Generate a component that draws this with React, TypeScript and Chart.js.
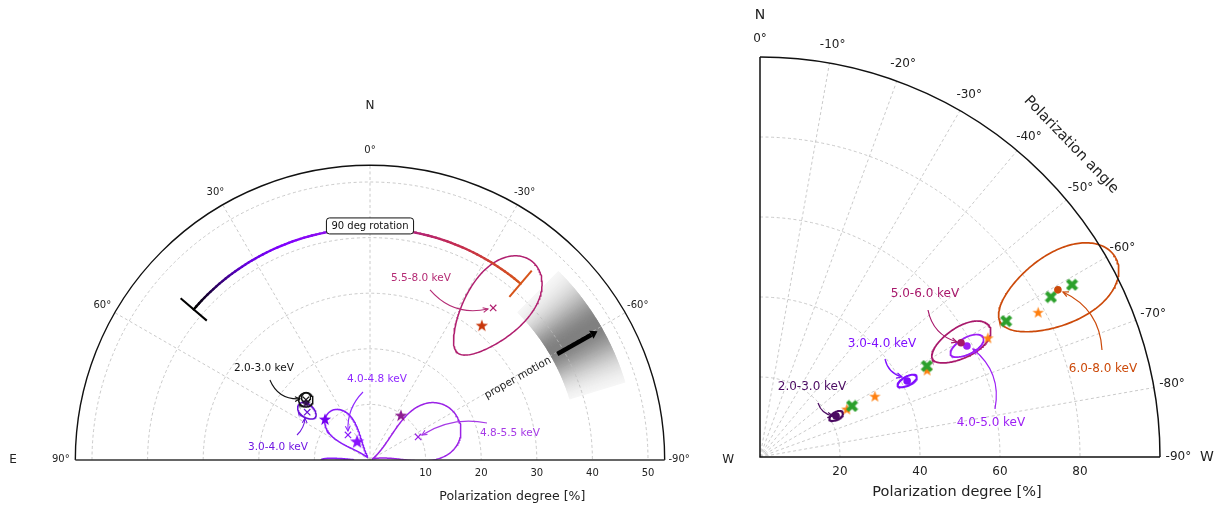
import React, { useEffect, useRef } from 'react';
import { Chart, registerables } from 'chart.js';

Chart.register(...registerables);

// ===================== LEFT PANEL DATA =====================
const L_BANDS = ['2.0-3.0 keV', '3.0-4.0 keV', '4.0-4.8 keV', '4.8-5.5 keV', '5.5-8.0 keV'];
// best-fit values (x markers): polarization degree [%], polarization angle [deg]
const L_FIT_PD = [15.8, 14.2, 6.0, 9.6, 35.2];
const L_FIT_PA = [46.8, 52.7, 41.3, -64.4, -39.0];
// star markers
const L_STAR_PD = [15.4, 10.95, 4.1, 9.8, 31.5];
const L_STAR_PA = [48.3, 47.7, 34.4, -34.6, -39.7];
// confidence contours (centre, half widths)
const L_CONT_PD = [15.8, 14.35, 6.0, 9.0, 35.5];
const L_CONT_PA = [46.8, 52.1, 40.6, -65.0, -39.3];
const L_CONT_DPD = [1.3, 1.9, 5.3, 8.5, 10.6];
const L_CONT_DPA = [4.6, 4.7, 19.0, 26.0, 9.0];
// inner 2-3 keV contour and the part of a contour wrapped at PA = 90
const L_INNER_PD = 16.1, L_INNER_PA = 45.6, L_INNER_DPD = 0.8, L_INNER_DPA = 3.0;
const L_WRAP_PD = 5.9, L_WRAP_PA = 90.0, L_WRAP_DPD = 2.9, L_WRAP_DPA = 2.6;
// "90 deg rotation" arc
const L_ROT_PD = 41.7;
const L_ROT_PA = [49.5, -40.5];
const L_ROT_BAR = [38.6, 44.8];
// proper motion
const L_PM_PA = -60.5;
const L_PM_PD = [38.7, 47.0];
const L_PM_BAND = [37.5, 48.0];
const L_PM_BAND_CENTRE = -59.0;
const L_PM_SIGMA = 6.0;
const L_PM_HALF = 14;
const L_RMAX = 53;
const L_R_TICKS = [10, 20, 30, 40, 50];
const L_A_TICKS = [90, 60, 30, 0, -30, -60, -90];
const L_A_GRID = [60, 30, 0, -30, -60];

// ===================== RIGHT PANEL DATA =====================
const R_BANDS = ['2.0-3.0 keV', '3.0-4.0 keV', '4.0-5.0 keV', '5.0-6.0 keV', '6.0-8.0 keV'];
const R_PD = [21.6, 41.4, 58.7, 57.8, 85.4];
const R_PA = [-61.7, -62.7, -61.8, -60.4, -60.7];
const R_DPD = [1.9, 2.65, 4.6, 8.2, 16.5];
const R_DPA = [2.6, 1.55, 2.0, 3.8, 5.9];
const R_GREEN_PD = [26.3, 47.5, 70.3, 83.0, 89.1];
const R_GREEN_PA = [-61.0, -61.4, -61.1, -61.2, -61.1];
const R_ORANGE_PD = [24.8, 32.5, 47.1, 64.3, 78.4];
const R_ORANGE_PA = [-61.1, -62.1, -62.5, -62.4, -62.5];
const R_RMAX = 100;
const R_R_TICKS = [20, 40, 60, 80];
const R_A_TICKS = [0, -10, -20, -30, -40, -50, -60, -70, -80, -90];
const R_A_GRID = [-10, -20, -30, -40, -50, -60, -70, -80];

// ===================== STYLES =====================
const L_COL = ['#111111', '#6a12d8', '#8a1cfa', '#9b22e6', '#b01f6f'];
const L_TXT = ['#111111', '#7016e2', '#8f28ff', '#a63ae6', '#b42b74'];
const L_STAR_COL = ['#2e0a4a', '#7300f0', '#8a14ff', '#8e1e91', '#c8360a'];
const L_STAR_SIZE = [11, 14, 16, 14, 14];
const R_COL = ['#4b0b62', '#7f0fff', '#9d1ff5', '#a8186b', '#cc4a0a'];
const GRID = '#bdbdbd';
const FONT = '"DejaVu Sans", "Liberation Sans", sans-serif';

// annotation layout (cartesian data coords)
const L_ANN = [
  { t: [-19.06, 16.55], f: [-18.0, 14.4], e: [-12.6, 11.0], rad: 0.35 },
  { t: [-16.55, 2.34], f: [-13.13, 4.5], e: [-11.69, 7.55], rad: 0.2 },
  { t: [1.26, 14.57], f: [-1.26, 12.23], e: [-3.96, 5.22], rad: 0.22 },
  { t: [25.18, 4.86], f: [21.04, 6.65], e: [9.35, 4.5], rad: 0.2 },
  { t: [9.17, 32.73], f: [10.79, 30.58], e: [21.22, 27.16], rad: 0.3 },
];
const R_ANN = [
  { t: [13, 17.5], f: [14.5, 13.5], e: [18.25, 10.25], rad: 0.3 },
  { t: [30.5, 28.25], f: [31.25, 24.5], e: [35.5, 20], rad: 0.3 },
  { t: [57.75, 8.5], f: [58.75, 12], e: [53.25, 27], rad: 0.3 },
  { t: [41.25, 40.75], f: [42, 36.75], e: [49.25, 28.75], rad: 0.3 },
  { t: [85.75, 22], f: [85.5, 26.75], e: [75.75, 41.25], rad: 0.3 },
];

// ===================== HELPERS =====================
type Pt = { x: number; y: number };
const DEG = Math.PI / 180;
const cart = (pd: number, pa: number): Pt => ({ x: -pd * Math.sin(pa * DEG), y: pd * Math.cos(pa * DEG) });

function contour(pd: number, pa: number, dpd: number, dpa: number, n = 200): Pt[] {
  const pts: Pt[] = [];
  for (let i = 0; i <= n; i++) {
    const t = (i / n) * 2 * Math.PI;
    pts.push(cart(pd + dpd * Math.cos(t), pa + dpa * Math.sin(t)));
  }
  return pts;
}

const ROT_STOPS: [number, number[]][] = [
  [0, [0, 0, 0]],
  [0.18, [100, 0, 220]],
  [0.3, [128, 0, 255]],
  [0.48, [145, 20, 230]],
  [0.6, [168, 32, 140]],
  [0.8, [196, 44, 80]],
  [1, [214, 84, 26]],
];
function rotColor(f: number) {
  for (let i = 1; i < ROT_STOPS.length; i++) {
    const [f1, c1] = ROT_STOPS[i];
    const [f0, c0] = ROT_STOPS[i - 1];
    if (f <= f1) {
      const u = (f - f0) / (f1 - f0);
      const c = c0.map((v, k) => Math.round(v + (c1[k] - v) * u));
      return `rgb(${c[0]},${c[1]},${c[2]})`;
    }
  }
  return 'rgb(214,84,26)';
}

function makeStar(color: string, size: number) {
  const c = document.createElement('canvas');
  c.width = size; c.height = size;
  const g = c.getContext('2d')!;
  const R = size / 2 - 0.5, r = R * 0.4;
  g.translate(size / 2, size / 2 + R * 0.1);
  g.beginPath();
  for (let i = 0; i < 10; i++) {
    const rr = i % 2 ? r : R;
    const a = -Math.PI / 2 + (i * Math.PI) / 5;
    const x = rr * Math.cos(a), y = rr * Math.sin(a);
    if (i) g.lineTo(x, y); else g.moveTo(x, y);
  }
  g.closePath();
  g.fillStyle = color;
  g.fill();
  return c;
}
function makeX(color: string, size: number) {
  const c = document.createElement('canvas');
  c.width = size; c.height = size;
  const g = c.getContext('2d')!;
  g.translate(size / 2, size / 2);
  g.rotate(Math.PI / 4);
  const a = size * 0.5, b = size * 0.16;
  const poly = [[-b, -a], [b, -a], [b, -b], [a, -b], [a, b], [b, b], [b, a], [-b, a], [-b, b], [-a, b], [-a, -b], [-b, -b]];
  g.beginPath();
  poly.forEach(([x, y], i) => (i ? g.lineTo(x, y) : g.moveTo(x, y)));
  g.closePath();
  g.fillStyle = color;
  g.fill();
  return c;
}

function drawText(ctx: CanvasRenderingContext2D, s: string, x: number, y: number, size: number, color: string, rot = 0, align: CanvasTextAlign = 'center') {
  ctx.save();
  ctx.translate(x, y);
  if (rot) ctx.rotate(rot * DEG);
  ctx.font = `${size}px ${FONT}`;
  ctx.fillStyle = color;
  ctx.textAlign = align;
  ctx.textBaseline = 'middle';
  ctx.fillText(s, 0, 0);
  ctx.restore();
}
function drawArrow(ctx: CanvasRenderingContext2D, x0: number, y0: number, x1: number, y1: number, rad: number, color: string, lw = 1.1, head = 6) {
  const mx = (x0 + x1) / 2, my = (y0 + y1) / 2, dx = x1 - x0, dy = y1 - y0;
  const cx = mx - rad * dy, cy = my + rad * dx;
  ctx.save();
  ctx.strokeStyle = color;
  ctx.lineWidth = lw;
  ctx.beginPath();
  ctx.moveTo(x0, y0);
  ctx.quadraticCurveTo(cx, cy, x1, y1);
  ctx.stroke();
  const ang = Math.atan2(y1 - cy, x1 - cx);
  ctx.beginPath();
  ctx.moveTo(x1 - head * Math.cos(ang - 0.45), y1 - head * Math.sin(ang - 0.45));
  ctx.lineTo(x1, y1);
  ctx.lineTo(x1 - head * Math.cos(ang + 0.45), y1 - head * Math.sin(ang + 0.45));
  ctx.stroke();
  ctx.restore();
}

function helpers(chart: any) {
  const sx = chart.scales.x, sy = chart.scales.y;
  const D = (x: number, y: number) => [sx.getPixelForValue(x), sy.getPixelForValue(y)];
  const P = (pd: number, pa: number) => { const c = cart(pd, pa); return D(c.x, c.y); };
  const [cx, cy] = D(0, 0);
  const k = sx.getPixelForValue(1) - cx;
  return { D, P, cx, cy, k };
}

// soft proper-motion band: thin slices of an annulus, shade gaussian in angle
function drawBand(ctx: CanvasRenderingContext2D, cx: number, cy: number, k: number) {
  const R1 = L_PM_BAND[0] * k, R2 = L_PM_BAND[1] * k;
  const step = 0.25;
  ctx.save();
  for (let d = -L_PM_HALF; d < L_PM_HALF; d += step) {
    const pa = L_PM_BAND_CENTRE + d + step / 2;
    const a = 0.5 * Math.exp(-((pa - L_PM_BAND_CENTRE) ** 2) / (2 * L_PM_SIGMA ** 2));
    const g = Math.round(255 * (1 - a));
    ctx.fillStyle = `rgb(${g},${g},${g})`;
    const c0 = (-90 - (L_PM_BAND_CENTRE + d)) * DEG;
    const c1 = (-90 - (L_PM_BAND_CENTRE + d + step)) * DEG;
    ctx.beginPath();
    ctx.arc(cx, cy, R2, c1 - 0.002, c0 + 0.002);
    ctx.arc(cx, cy, R1, c0 + 0.002, c1 - 0.002, true);
    ctx.closePath();
    ctx.fill();
  }
  ctx.restore();
}

// ===================== LEFT CHART =====================
function leftConfig() {
  const datasets: any[] = [];
  L_BANDS.forEach((_, i) => {
    datasets.push({
      data: contour(L_CONT_PD[i], L_CONT_PA[i], L_CONT_DPD[i], L_CONT_DPA[i]),
      showLine: true, pointRadius: 0, borderColor: L_COL[i], borderWidth: 1.5, clip: 0, order: 6,
    });
  });
  datasets.push({ data: contour(L_INNER_PD, L_INNER_PA, L_INNER_DPD, L_INNER_DPA), showLine: true, pointRadius: 0, borderColor: L_COL[0], borderWidth: 1.3, clip: 0, order: 6 });
  datasets.push({ data: contour(L_WRAP_PD, L_WRAP_PA, L_WRAP_DPD, L_WRAP_DPA), showLine: true, pointRadius: 0, borderColor: L_COL[2], borderWidth: 1.8, clip: 0, order: 6 });
  const arc: Pt[] = [];
  const nA = Math.round(L_ROT_PA[0] - L_ROT_PA[1]);
  for (let i = 0; i <= nA; i++) arc.push(cart(L_ROT_PD, L_ROT_PA[0] - ((L_ROT_PA[0] - L_ROT_PA[1]) * i) / nA));
  for (let i = 0; i < arc.length - 1; i++) {
    datasets.push({ data: [arc[i], arc[i + 1]], showLine: true, pointRadius: 0, borderColor: rotColor(i / (arc.length - 2)), borderWidth: 2.4, borderCapStyle: 'round', order: 4 });
  }
  datasets.push({ data: [cart(L_ROT_BAR[0], L_ROT_PA[0]), cart(L_ROT_BAR[1], L_ROT_PA[0])], showLine: true, pointRadius: 0, borderColor: '#000000', borderWidth: 2, order: 4 });
  datasets.push({ data: [cart(L_ROT_BAR[0], L_ROT_PA[1]), cart(L_ROT_BAR[1], L_ROT_PA[1])], showLine: true, pointRadius: 0, borderColor: 'rgb(214,84,26)', borderWidth: 2, order: 4 });
  datasets.push({
    data: L_FIT_PD.map((pd, i) => cart(pd, L_FIT_PA[i])),
    showLine: false, pointStyle: 'crossRot', pointRadius: 4.5, pointBorderColor: L_COL, pointBorderWidth: 1.2, order: 2,
  });
  datasets.push({
    data: L_STAR_PD.map((pd, i) => cart(pd, L_STAR_PA[i])),
    showLine: false, pointStyle: L_STAR_COL.map((c, i) => makeStar(c, L_STAR_SIZE[i])), pointRadius: 6, order: 1,
  });

  const plugin = {
    id: 'leftDecor',
    beforeDatasetsDraw(chart: any) {
      const ctx: CanvasRenderingContext2D = chart.ctx;
      const { P, cx, cy, k } = helpers(chart);
      drawBand(ctx, cx, cy, k);
      ctx.save();
      ctx.strokeStyle = GRID;
      ctx.lineWidth = 0.8;
      ctx.setLineDash([3, 2.6]);
      L_R_TICKS.forEach((r) => {
        ctx.beginPath();
        ctx.arc(cx, cy, r * k, Math.PI, 2 * Math.PI);
        ctx.stroke();
      });
      L_A_GRID.forEach((a) => {
        const [x, y] = P(L_RMAX, a);
        ctx.beginPath();
        ctx.moveTo(cx, cy);
        ctx.lineTo(x, y);
        ctx.stroke();
      });
      ctx.restore();
    },
    afterDatasetsDraw(chart: any) {
      const ctx: CanvasRenderingContext2D = chart.ctx;
      const { D, P, cx, cy, k } = helpers(chart);
      ctx.save();
      ctx.strokeStyle = '#111';
      ctx.lineWidth = 1.4;
      ctx.beginPath();
      ctx.arc(cx, cy, L_RMAX * k, Math.PI, 2 * Math.PI);
      ctx.stroke();
      ctx.lineWidth = 1.7;
      ctx.strokeStyle = '#333';
      ctx.beginPath();
      ctx.moveTo(cx - L_RMAX * k, cy);
      ctx.lineTo(cx + L_RMAX * k, cy);
      ctx.stroke();
      ctx.restore();
      L_A_TICKS.forEach((a) => {
        const [x, y] = P(55.6, a);
        drawText(ctx, `${a}°`, x, y - (Math.abs(a) === 90 ? 1 : 0), 10, '#222');
      });
      drawText(ctx, 'N', ...(P(63.7, 0) as [number, number]), 12, '#222');
      drawText(ctx, 'E', ...(P(64.2, 90) as [number, number]), 12, '#222');
      drawText(ctx, 'W', ...(P(64.4, -90) as [number, number]), 12, '#222');
      L_R_TICKS.forEach((r) => {
        const [x] = D(r, 0);
        drawText(ctx, String(r), x, cy + 13, 10, '#222');
      });
      drawText(ctx, 'Polarization degree [%]', D(25.6, 0)[0], cy + 37, 12.5, '#222');
      const [bx, by] = P(42.1, 0);
      ctx.save();
      ctx.font = `10px ${FONT}`;
      const w = ctx.measureText('90 deg rotation').width + 10;
      const h = 16;
      ctx.beginPath();
      (ctx as any).roundRect(bx - w / 2, by - h / 2, w, h, 3);
      ctx.fillStyle = '#fff';
      ctx.fill();
      ctx.strokeStyle = '#111';
      ctx.lineWidth = 1;
      ctx.stroke();
      ctx.restore();
      drawText(ctx, '90 deg rotation', bx, by, 10, '#111');
      const [x0, y0] = P(L_PM_PD[0], L_PM_PA);
      const [x1, y1] = P(L_PM_PD[1], L_PM_PA);
      const ang = Math.atan2(y1 - y0, x1 - x0);
      const hl = 7;
      ctx.save();
      ctx.strokeStyle = '#000';
      ctx.fillStyle = '#000';
      ctx.lineWidth = 4.5;
      ctx.beginPath();
      ctx.moveTo(x0, y0);
      ctx.lineTo(x1 - hl * Math.cos(ang), y1 - hl * Math.sin(ang));
      ctx.stroke();
      ctx.beginPath();
      ctx.moveTo(x1, y1);
      ctx.lineTo(x1 - hl * Math.cos(ang) + 4.5 * Math.sin(ang), y1 - hl * Math.sin(ang) - 4.5 * Math.cos(ang));
      ctx.lineTo(x1 - hl * Math.cos(ang) - 4.5 * Math.sin(ang), y1 - hl * Math.sin(ang) + 4.5 * Math.cos(ang));
      ctx.closePath();
      ctx.fill();
      ctx.restore();
      const [tx, ty] = P(30.4, -61);
      drawText(ctx, 'proper motion', tx, ty, 10.5, '#222', -(90 + L_PM_PA));
      L_ANN.forEach((a, i) => {
        const [px, py] = D(a.t[0], a.t[1]);
        drawText(ctx, L_BANDS[i], px, py, 10.5, L_TXT[i]);
        const [fx, fy] = D(a.f[0], a.f[1]);
        const [ex, ey] = D(a.e[0], a.e[1]);
        drawArrow(ctx, fx, fy, ex, ey, a.rad, L_TXT[i], 1.1, 5.5);
      });
    },
  };

  return {
    type: 'scatter',
    data: { datasets },
    options: {
      animation: false,
      responsive: false,
      devicePixelRatio: 1,
      events: [],
      layout: { padding: { left: 75.32, right: 75.32, top: 165.32, bottom: 46 } },
      scales: {
        x: { type: 'linear', min: -L_RMAX, max: L_RMAX, display: false },
        y: { type: 'linear', min: 0, max: L_RMAX, display: false },
      },
      plugins: { legend: { display: false }, tooltip: { enabled: false } },
    },
    plugins: [plugin],
  };
}

// ===================== RIGHT CHART =====================
function rightConfig() {
  const datasets: any[] = [];
  datasets.push({
    data: R_ORANGE_PD.map((pd, i) => cart(pd, R_ORANGE_PA[i])),
    showLine: false, pointStyle: makeStar('#ff7f0e', 13), pointRadius: 6, order: 5,
  });
  datasets.push({
    data: R_GREEN_PD.map((pd, i) => cart(pd, R_GREEN_PA[i])),
    showLine: false, pointStyle: makeX('#2ca02c', 13), pointRadius: 6, order: 4,
  });
  R_BANDS.forEach((_, i) => {
    datasets.push({
      data: contour(R_PD[i], R_PA[i], R_DPD[i], R_DPA[i]),
      showLine: true, pointRadius: 0, borderColor: R_COL[i], borderWidth: i < 2 ? 2 : 1.7, clip: 0, order: 6,
    });
  });
  datasets.push({
    data: R_PD.map((pd, i) => cart(pd, R_PA[i])),
    showLine: false, pointStyle: 'circle', pointRadius: 3.8, pointBackgroundColor: R_COL, pointBorderColor: R_COL, pointBorderWidth: 0, order: 1,
  });

  const plugin = {
    id: 'rightDecor',
    beforeDatasetsDraw(chart: any) {
      const ctx: CanvasRenderingContext2D = chart.ctx;
      const { P, cx, cy, k } = helpers(chart);
      ctx.save();
      ctx.strokeStyle = GRID;
      ctx.lineWidth = 0.8;
      ctx.setLineDash([3, 2.6]);
      R_R_TICKS.forEach((r) => {
        ctx.beginPath();
        ctx.arc(cx, cy, r * k, -Math.PI / 2, 0);
        ctx.stroke();
      });
      R_A_GRID.forEach((a) => {
        const [x, y] = P(R_RMAX, a);
        ctx.beginPath();
        ctx.moveTo(cx, cy);
        ctx.lineTo(x, y);
        ctx.stroke();
      });
      ctx.restore();
    },
    afterDatasetsDraw(chart: any) {
      const ctx: CanvasRenderingContext2D = chart.ctx;
      const { D, P, cx, cy, k } = helpers(chart);
      ctx.save();
      ctx.strokeStyle = '#111';
      ctx.lineWidth = 1.5;
      ctx.beginPath();
      ctx.moveTo(cx, cy - R_RMAX * k);
      ctx.lineTo(cx, cy);
      ctx.lineTo(cx + R_RMAX * k, cy);
      ctx.stroke();
      ctx.beginPath();
      ctx.arc(cx, cy, R_RMAX * k, -Math.PI / 2, 0);
      ctx.stroke();
      ctx.restore();
      R_A_TICKS.forEach((a) => {
        const [x, y] = P(104.6, a);
        drawText(ctx, `${a}°`, x, y, 12, '#222');
      });
      R_R_TICKS.forEach((r) => {
        const [x] = D(r, 0);
        drawText(ctx, String(r), x, cy + 15, 12, '#222');
      });
      drawText(ctx, 'Polarization degree [%]', D(49.25, 0)[0], cy + 35, 14.5, '#222');
      drawText(ctx, 'N', ...(P(110.5, 0) as [number, number]), 14, '#222');
      drawText(ctx, 'W', ...(P(111.75, -90) as [number, number]), 14, '#222');
      const [ax, ay] = P(110.2, -44.9);
      drawText(ctx, 'Polarization angle', ax, ay, 14.5, '#222', 46);
      R_ANN.forEach((a, i) => {
        const [px, py] = D(a.t[0], a.t[1]);
        drawText(ctx, R_BANDS[i], px, py, 12, R_COL[i]);
        const [fx, fy] = D(a.f[0], a.f[1]);
        const [ex, ey] = D(a.e[0], a.e[1]);
        drawArrow(ctx, fx, fy, ex, ey, a.rad, R_COL[i], 1.2, 6);
      });
    },
  };

  return {
    type: 'scatter',
    data: { datasets },
    options: {
      animation: false,
      responsive: false,
      devicePixelRatio: 1,
      events: [],
      layout: { padding: { left: 30, right: 56, top: 57, bottom: 49 } },
      scales: {
        x: { type: 'linear', min: 0, max: R_RMAX, display: false },
        y: { type: 'linear', min: 0, max: R_RMAX, display: false },
      },
      plugins: { legend: { display: false }, tooltip: { enabled: false } },
    },
    plugins: [plugin],
  };
}

export default function App() {
  const lref = useRef<HTMLCanvasElement | null>(null);
  const rref = useRef<HTMLCanvasElement | null>(null);
  useEffect(() => {
    const a = new Chart(lref.current!, leftConfig() as any);
    const b = new Chart(rref.current!, rightConfig() as any);
    return () => {
      a.destroy();
      b.destroy();
    };
  }, []);
  return (
    <div style={{ position: 'fixed', left: 0, top: 0, width: 1216, height: 506, background: '#fff', overflow: 'hidden' }}>
      <canvas ref={lref} width={740} height={506} style={{ position: 'absolute', left: 0, top: 0, width: 740, height: 506 }} />
      <canvas ref={rref} width={486} height={506} style={{ position: 'absolute', left: 730, top: 0, width: 486, height: 506 }} />
    </div>
  );
}
